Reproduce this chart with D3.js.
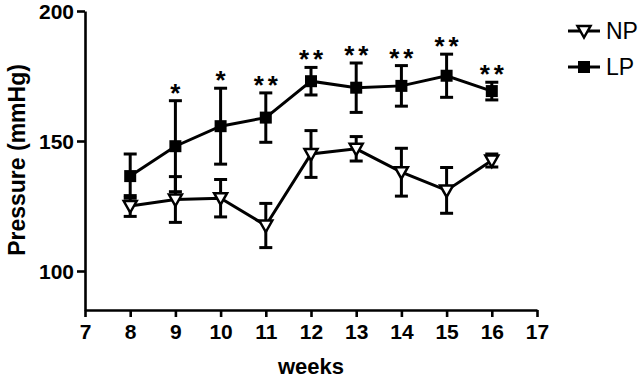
<!DOCTYPE html>
<html>
<head>
<meta charset="utf-8">
<script src="https://cdn.jsdelivr.net/npm/d3@7"></script>
<style>
  html, body { margin: 0; padding: 0; background: #fff; }
  svg { display: block; font-family: "Liberation Sans", Arial, sans-serif; }
</style>
</head>
<body>
<div id="chart"></div>
<script>
// Data (mean and error per week)
const weeks = [8, 9, 10, 11, 12, 13, 14, 15, 16];
const npMean = [125, 127.5, 128, 117.5, 145, 147, 138, 131, 142.5];
const npErr = [4, 8.8, 7.2, 8.5, 9, 4.7, 9.2, 8.8, 2.5];
const lpMean = [136.5, 148, 155.7, 159, 173, 170.5, 171.2, 175.1, 169.2];
const lpErr = [8.5, 17.5, 14.6, 9.5, 5.3, 9.5, 7.8, 8.3, 3.4];
const stars = ['', '*', '*', '**', '**', '**', '**', '**', '**'];
const xTicks = [7, 8, 9, 10, 11, 12, 13, 14, 15, 16, 17];
const yTicks = [100, 150, 200];

const width = 640, height = 379;
const svg = d3.select('#chart').append('svg')
    .attr('width', width)
    .attr('height', height);

// Scales
const x = d3.scaleLinear().domain([7, 17]).range([85, 537]);
const y = d3.scaleLinear().domain([85, 200]).range([310, 11]);

// Axes
const xAxis = svg.append('g')
    .attr('transform', `translate(0, ${y(85)})`)
    .call(d3.axisBottom(x).tickValues(xTicks).tickSize(7).tickSizeOuter(0).tickPadding(7));

const yAxis = svg.append('g')
    .attr('transform', `translate(${x(7)}, 0)`)
    .call(d3.axisLeft(y).tickValues(yTicks).tickSize(8).tickSizeOuter(0).tickPadding(3));

[xAxis, yAxis].forEach(ax => {
    ax.selectAll('path, line').attr('stroke', '#000').attr('stroke-width', 2.6);
    ax.selectAll('text')
        .attr('fill', '#000')
        .style('font-size', '21px')
        .style('font-weight', 'bold')
        .style('font-family', '"Liberation Sans", Arial, sans-serif');
});
yAxis.selectAll('text').attr('dy', '0.36em');

// Axis titles
svg.append('text')
    .attr('x', (x(7) + x(17)) / 2)
    .attr('y', 374)
    .attr('text-anchor', 'middle')
    .style('font-size', '22px')
    .style('font-weight', 'bold')
    .text('weeks');

svg.append('text')
    .attr('transform', 'translate(25, 160) rotate(-90)')
    .attr('text-anchor', 'middle')
    .style('font-size', '23px')
    .style('font-weight', 'bold')
    .text('Pressure (mmHg)');

// Marker shapes
const triPath = 'M-6.5,-5L6.5,-5L0,6.5Z';
const sq = 12;
const cap = 13;

const line = d3.line().x(d => x(d[0])).y(d => y(d[1]));

function drawSeries(means, errs, marker) {
    const g = svg.append('g');
    const pts = weeks.map((w, i) => [w, means[i], errs[i]]);

    // error bars
    const eb = g.selectAll('.eb').data(pts).enter().append('g')
        .attr('stroke', '#000').attr('stroke-width', 3);
    eb.append('line')
        .attr('x1', d => x(d[0])).attr('x2', d => x(d[0]))
        .attr('y1', d => y(d[1] - d[2])).attr('y2', d => y(d[1] + d[2]));
    eb.append('line')
        .attr('x1', d => x(d[0]) - cap / 2).attr('x2', d => x(d[0]) + cap / 2)
        .attr('y1', d => y(d[1] + d[2])).attr('y2', d => y(d[1] + d[2]));
    eb.append('line')
        .attr('x1', d => x(d[0]) - cap / 2).attr('x2', d => x(d[0]) + cap / 2)
        .attr('y1', d => y(d[1] - d[2])).attr('y2', d => y(d[1] - d[2]));

    // connecting line
    g.append('path')
        .datum(pts)
        .attr('d', line)
        .attr('fill', 'none')
        .attr('stroke', '#000')
        .attr('stroke-width', 3);

    // markers
    if (marker === 'square') {
        g.selectAll('.mk').data(pts).enter().append('rect')
            .attr('x', d => x(d[0]) - sq / 2)
            .attr('y', d => y(d[1]) - sq / 2)
            .attr('width', sq).attr('height', sq)
            .attr('fill', '#000');
    } else {
        g.selectAll('.mk').data(pts).enter().append('path')
            .attr('transform', d => `translate(${x(d[0])}, ${y(d[1])})`)
            .attr('d', triPath)
            .attr('fill', '#fff')
            .attr('stroke', '#000')
            .attr('stroke-width', 2.5)
            .attr('stroke-linejoin', 'miter');
    }
}

drawSeries(lpMean, lpErr, 'square');
drawSeries(npMean, npErr, 'triangle');

// Significance stars above LP error bars
weeks.forEach((w, i) => {
    const n = stars[i].length;
    for (let k = 0; k < n; k++) {
        svg.append('text')
            .attr('x', x(w) + (k - (n - 1) / 2) * 14)
            .attr('y', y(lpMean[i] + lpErr[i]) + 1)
            .attr('text-anchor', 'middle')
            .style('font-size', '26px')
            .style('font-weight', 'bold')
            .text('*');
    }
});

// Legend
const legend = [
    { name: 'NP', marker: 'triangle', y: 31 },
    { name: 'LP', marker: 'square', y: 67 }
];
legend.forEach(l => {
    svg.append('line')
        .attr('x1', 568).attr('x2', 600)
        .attr('y1', l.y).attr('y2', l.y)
        .attr('stroke', '#000').attr('stroke-width', 3);
    if (l.marker === 'square') {
        svg.append('rect')
            .attr('x', 584 - sq / 2).attr('y', l.y - sq / 2)
            .attr('width', sq).attr('height', sq)
            .attr('fill', '#000');
    } else {
        svg.append('path')
            .attr('transform', `translate(584, ${l.y})`)
            .attr('d', triPath)
            .attr('fill', '#fff')
            .attr('stroke', '#000')
            .attr('stroke-width', 2.5);
    }
    svg.append('text')
        .attr('x', 606)
        .attr('y', l.y + 8)
        .style('font-size', '23px')
        .text(l.name);
});
</script>
</body>
</html>
